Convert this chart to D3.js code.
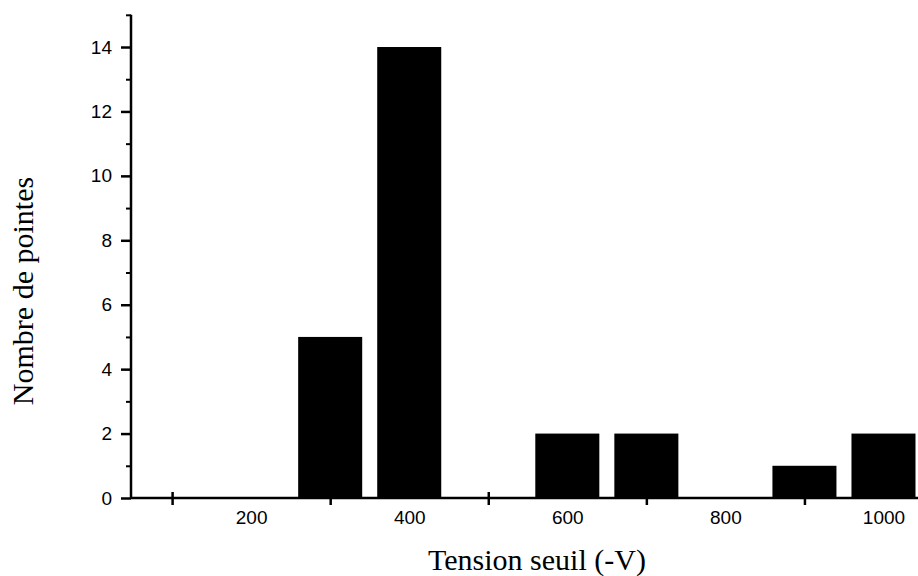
<!DOCTYPE html>
<html>
<head>
<meta charset="utf-8">
<script src="https://cdn.jsdelivr.net/npm/d3@7"></script>
<style>
  body { margin: 0; background: #fff; }
  .tick text { font-family: "Liberation Sans", Arial, sans-serif; font-size: 19px; fill: #000; }
  .title { font-family: "Liberation Serif", "Times New Roman", serif; font-size: 30px; fill: #000; }
</style>
</head>
<body>
<div id="chart"></div>
<script>
// Histogram data: threshold voltage (-V) bins and counts
const voltages = [100, 200, 300, 400, 500, 600, 700, 800, 900, 1000];
const counts = [0, 0, 5, 14, 0, 2, 2, 0, 1, 2];
const xLabelValues = [200, 400, 600, 800, 1000];
const xTickValues = [100, 300, 500, 700, 900];
const yMajorTicks = [0, 2, 4, 6, 8, 10, 12, 14];
const yMinorTicks = [1, 3, 5, 7, 9, 11, 13, 15];

const width = 918, height = 576;

const svg = d3.select("#chart")
    .append("svg")
    .attr("width", width)
    .attr("height", height);

// Scales
const x = d3.scaleLinear()
    .domain([48, 1050])
    .range([131, 923]);

const y = d3.scaleLinear()
    .domain([0, 15])
    .range([498, 14.8]);

const binHalf = 40.5;

// Bars
svg.selectAll("rect.bar")
    .data(voltages.map((v, i) => ({ v: v, c: counts[i] })).filter(d => d.c > 0))
    .join("rect")
    .attr("class", "bar")
    .attr("x", d => x(d.v - binHalf))
    .attr("y", d => y(d.c))
    .attr("width", d => x(d.v + binHalf) - x(d.v - binHalf))
    .attr("height", d => y(0) - y(d.c))
    .attr("fill", "#000");

// X axis: tick marks
const xTicks = svg.append("g")
    .attr("transform", `translate(0, ${y(0)})`)
    .call(d3.axisBottom(x).tickValues(xTickValues).tickSize(7).tickFormat(""));
xTicks.select(".domain").remove();
xTicks.selectAll(".tick line")
    .attr("stroke-width", 2.5)
    .attr("y1", d => (d === 100 || d === 500) ? -6 : 0);

// X axis: labels (between tick marks)
const xLabels = svg.append("g")
    .attr("transform", `translate(0, ${y(0)})`)
    .call(d3.axisBottom(x).tickValues(xLabelValues).tickSize(0).tickPadding(13).tickFormat(d3.format("d")));
xLabels.select(".domain").remove();

svg.append("line")
    .attr("x1", x(48)).attr("x2", width)
    .attr("y1", y(0)).attr("y2", y(0))
    .attr("stroke", "#000")
    .attr("stroke-width", 2.5);

// Y axis
const yMinor = svg.append("g")
    .attr("transform", `translate(${x(48)}, 0)`)
    .call(d3.axisLeft(y).tickValues(yMinorTicks).tickSize(5).tickFormat(""));
yMinor.select(".domain").remove();
yMinor.selectAll(".tick line").attr("stroke-width", 2);

const yMajor = svg.append("g")
    .attr("transform", `translate(${x(48)}, 0)`)
    .call(d3.axisLeft(y).tickValues(yMajorTicks).tickSize(10).tickPadding(9));
yMajor.select(".domain").remove();
yMajor.selectAll(".tick line").attr("stroke-width", 2.5);

svg.append("line")
    .attr("x1", x(48)).attr("x2", x(48))
    .attr("y1", y(15)).attr("y2", y(0))
    .attr("stroke", "#000")
    .attr("stroke-width", 2.5);

// Axis titles
svg.append("text")
    .attr("class", "title")
    .attr("text-anchor", "middle")
    .attr("x", 537)
    .attr("y", 570)
    .text("Tension seuil (-V)");

svg.append("text")
    .attr("class", "title")
    .attr("text-anchor", "middle")
    .attr("transform", "translate(33, 291) rotate(-90)")
    .text("Nombre de pointes");
</script>
</body>
</html>
